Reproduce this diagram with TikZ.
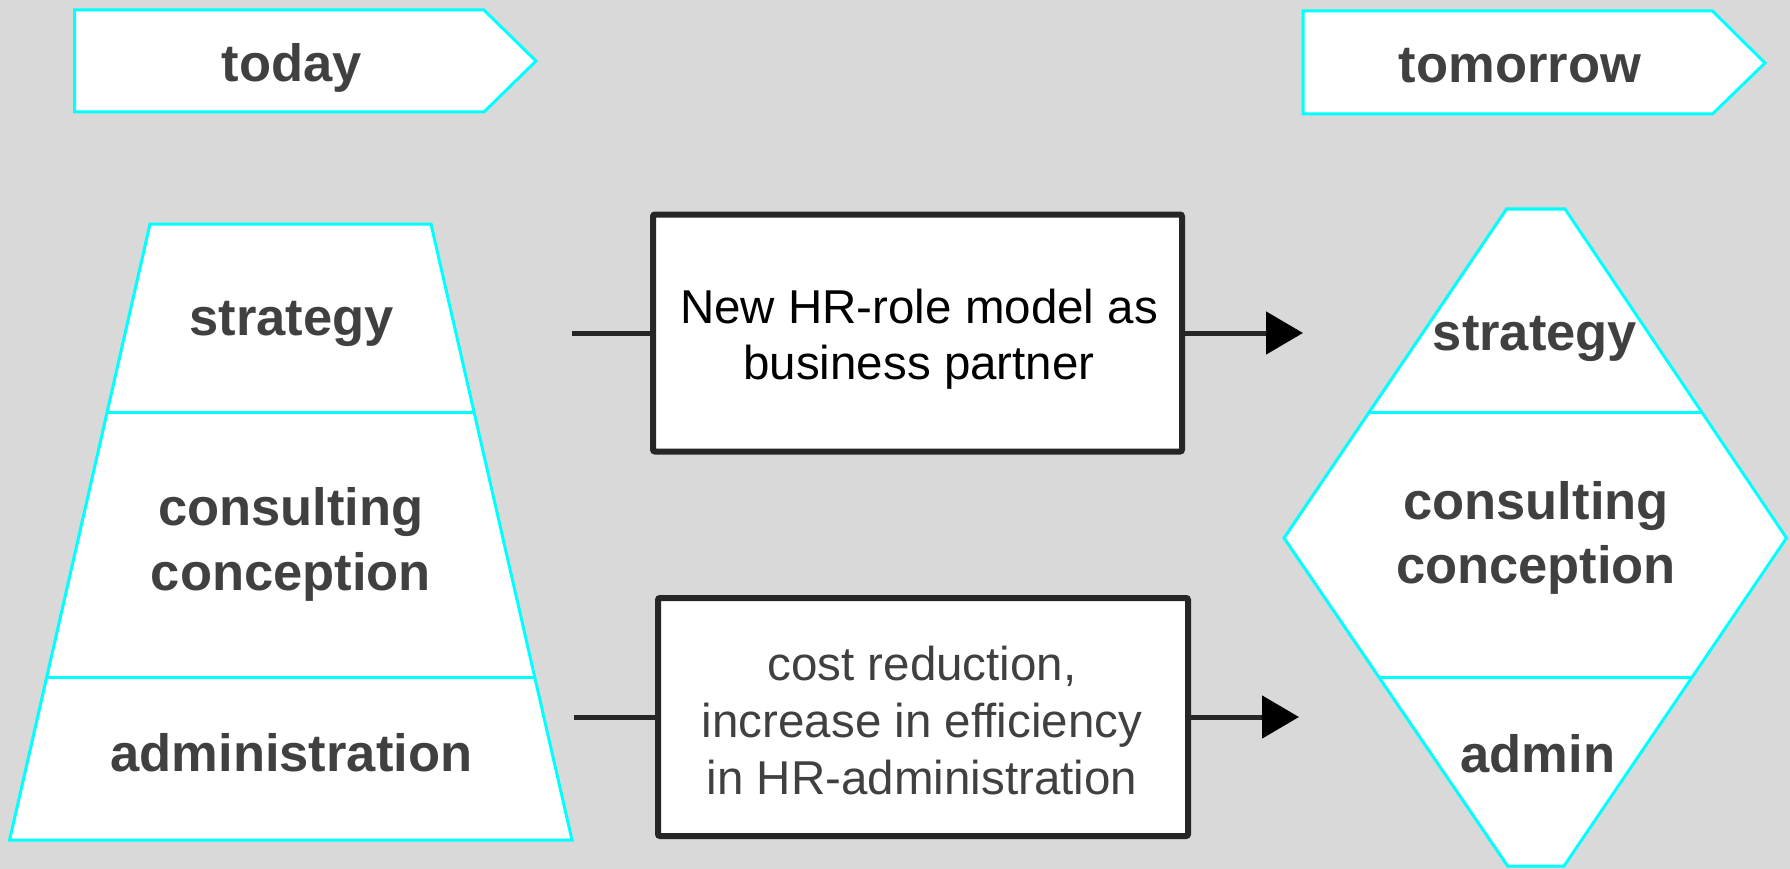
\documentclass[tikz,border=0pt]{standalone}
\usepackage{fontspec}
\setmainfont{Liberation Sans}
\usetikzlibrary{arrows.meta}
\definecolor{bg}{HTML}{D9D9D9}
\definecolor{cy}{HTML}{00FFFF}
\definecolor{tx}{HTML}{404040}
\definecolor{ln}{HTML}{262626}
\tikzset{
  shapeline/.style={draw=cy, line width=3pt, fill=white, line join=miter},
  divline/.style={draw=cy, line width=3pt},
  big/.style={font=\fontsize{52.5}{64}\selectfont\bfseries, text=tx, inner sep=0pt, anchor=base},
  plain/.style={font=\fontsize{47.5}{57}\selectfont, inner sep=0pt, anchor=base},
  pbox/.style={draw=ln, line width=6pt, fill=white, rounded corners=2pt, inner sep=0pt},
  conn/.style={draw=ln, line width=5pt},
  tipend/.style={-{Triangle[length=37pt,width=42pt,color=black]}}
}
\begin{document}
\begin{tikzpicture}[x=1pt,y=-1pt]
\useasboundingbox (0,0) rectangle (1790,869);
\fill[bg] (0,0) rectangle (1790,869);

% banners
\draw[shapeline] (74.6,10) -- (484,10) -- (536,61) -- (484,112) -- (74.6,112) -- cycle;
\node[big] (today) at (292,82) {today};
\draw[shapeline] (1303,11) -- (1712.5,11) -- (1765,63) -- (1712.5,114) -- (1303,114) -- cycle;
\node[big] (tomorrow) at (1520,83) {tomorrow};

% trapezoid (today)
\draw[shapeline] (150,224) -- (431,224) -- (572,840) -- (9.6,840) -- cycle;
\draw[divline] (107.2,412) -- (474,412);
\draw[divline] (46.7,677) -- (534.7,677);
\node[big] (ls) at (291.6,335) {strategy};
\node[big] (lc1) at (291,525.5) {consulting};
\node[big] (lc2) at (291,590) {conception};
\node[big] (la) at (291.4,771.6) {administration};

% hexagon (tomorrow)
\draw[shapeline] (1506.5,209) -- (1565,209) -- (1786.5,538) -- (1564,866) -- (1507.6,866) -- (1284,538) -- cycle;
\draw[divline] (1369,412) -- (1701,412);
\draw[divline] (1378.6,677) -- (1692,677);
\node[big] (rs) at (1535,350) {strategy};
\node[big] (rc1) at (1536,519) {consulting};
\node[big] (rc2) at (1536,583) {conception};
\node[big] (ra) at (1538,772) {admin};

% process boxes
\node[pbox, minimum width=529pt, minimum height=237pt] (b1) at (917.5,333) {};
\node[plain, text=black] (t1a) at (919,323.3) {New HR-role model as};
\node[plain, text=black] (t1b) at (919,379) {business partner};

\node[pbox, minimum width=530pt, minimum height=238pt] (b2) at (923,717) {};
\node[plain, text=tx] (t2a) at (922,680) {cost reduction,};
\node[plain, text=tx] (t2b) at (922,737) {increase in efficiency};
\node[plain, text=tx] (t2c) at (922,794) {in HR-administration};

% connectors
\coordinate (s1) at (572,333);
\coordinate (e1) at (1303,333);
\draw[conn] (s1) -- (b1.west);
\draw[conn,tipend] (b1.east) -- (e1);
\coordinate (s2) at (574,717);
\coordinate (e2) at (1299,717);
\draw[conn] (s2) -- (b2.west);
\draw[conn,tipend] (b2.east) -- (e2);
\end{tikzpicture}
\end{document}
